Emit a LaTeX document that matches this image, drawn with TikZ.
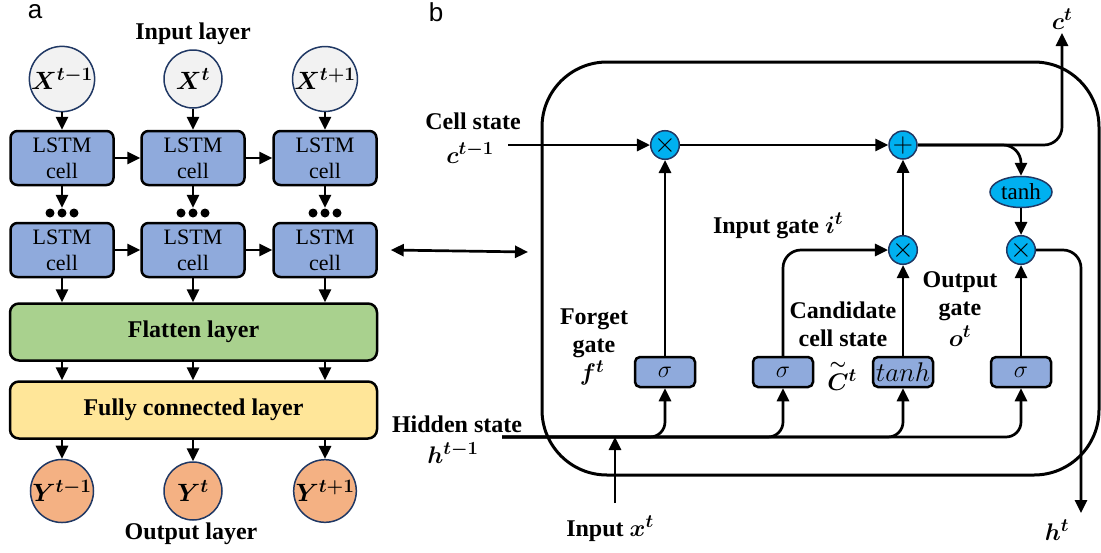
\documentclass[tikz,border=0pt]{standalone}
\usepackage{fix-cm}
\usepackage{amsmath}
\usepackage{fontspec}
\setmainfont{Liberation Serif}
\newfontfamily\panelfont{Liberation Sans}
\usetikzlibrary{arrows.meta, positioning, shapes.geometric}
\DeclareMathSizes{25}{25}{19}{15}
\DeclareMathSizes{24}{24}{18.5}{14}
\definecolor{lstmblue}{HTML}{8FAADC}
\definecolor{flatgreen}{HTML}{A9D18E}
\definecolor{fcyellow}{HTML}{FFE699}
\definecolor{outorange}{HTML}{F4B183}
\definecolor{ingray}{HTML}{F2F2F2}
\definecolor{darknavy}{HTML}{203864}
\definecolor{opcyan}{HTML}{00B0F0}

\begin{document}
\begin{tikzpicture}[x=1pt, y=-1pt,
  lstm/.style={draw, line width=2.5pt, rounded corners=7pt, fill=lstmblue, minimum width=103pt, minimum height=54pt, align=center, inner sep=0pt, font=\fontsize{22}{26}\selectfont},
  layer/.style={draw, line width=2.5pt, rounded corners=9pt, minimum width=367pt, minimum height=57pt, font=\fontsize{24}{26}\selectfont\bfseries},
  unit/.style={circle, draw=darknavy, line width=1.5pt, minimum size=58pt, inner sep=0pt, font=\fontsize{25}{26}\selectfont\boldmath},
  op/.style={circle, draw=darknavy, line width=1.5pt, fill=opcyan, minimum size=28pt, inner sep=0pt, font=\fontsize{28}{28}\selectfont},
  gatebox/.style={draw, line width=2.5pt, rounded corners=5pt, fill=lstmblue, minimum width=60pt, minimum height=30pt, inner sep=0pt, font=\fontsize{24}{24}\selectfont},
  lbl/.style={align=center, inner sep=0pt, font=\fontsize{24}{28}\selectfont\bfseries\boldmath},
  arr/.style={-{Triangle[length=13pt, width=12pt]}, line width=2.7pt},
  dotrow/.style={minimum width=34pt, minimum height=10pt, inner sep=0pt}
]
\useasboundingbox (0,0) rectangle (1101,552);

% ---- panel a ----
\node[font=\panelfont\fontsize{26}{26}\selectfont] (pa) at (35,12) {a};
\node[lbl] (inlayer) at (193,34) {Input layer};

\node[unit, fill=ingray] (x1) at (62,79) {$X^{t-1}$};
\node[unit, fill=ingray] (x2) at (193,79) {$X^{t}$};
\node[unit, fill=ingray] (x3) at (325,79) {$X^{t+1}$};

\node[lstm] (l11) at (62,158) {LSTM\\cell};
\node[lstm] (l12) at (193,158) {LSTM\\cell};
\node[lstm] (l13) at (325,158) {LSTM\\cell};

\node[dotrow] (d1) at (62,213) {};
\node[dotrow] (d2) at (193,213) {};
\node[dotrow] (d3) at (325,213) {};

\node[lstm] (l21) at (62,250) {LSTM\\cell};
\node[lstm] (l22) at (193,250) {LSTM\\cell};
\node[lstm] (l23) at (325,250) {LSTM\\cell};

\node[layer, fill=flatgreen] (flat) at (193.5,332) {Flatten layer};
\node[layer, fill=fcyellow] (fc) at (193.5,410) {Fully connected layer};

\node[unit, fill=outorange] (y1) at (62,491) {$Y^{t-1}$};
\node[unit, fill=outorange] (y2) at (193,491) {$Y^{t}$};
\node[unit, fill=outorange] (y3) at (325,491) {$Y^{t+1}$};
\node[lbl] (outlayer) at (191,534) {Output layer};

\foreach \c in {1,2,3} {
  \draw[arr] (x\c) -- (l1\c);
  \draw[arr] (l1\c) -- (d\c);
  \foreach \k in {-12,0,12} \fill ([xshift=\k]d\c) circle (4.5);
  \draw[arr] (l2\c) -- (l2\c |- flat.north);
  \draw[arr] (flat.south -| l2\c) -- (fc.north -| l2\c);
  \draw[arr] (fc.south -| y\c) -- (y\c);
}
\draw[arr] (l11) -- (l12);
\draw[arr] (l12) -- (l13);
\draw[arr] (l21) -- (l22);
\draw[arr] (l22) -- (l23);

% link between panels
\coordinate (lnk) at (528,252);
\draw[arr, {Triangle[length=13pt, width=12pt]}-{Triangle[length=13pt, width=12pt]}] ([xshift=13]l23.east) -- (lnk);

% ---- panel b ----
\node[font=\panelfont\fontsize{26}{26}\selectfont] (pb) at (436,12) {b};
\node[draw, line width=3pt, rounded corners=65pt, minimum width=557pt, minimum height=413pt] (cell) at (820.5,268.5) {};

\node[op] (fx) at (665,145) {$\times$};
\node[op] (add) at (903,145) {$+$};
\node[op] (ix) at (903,250) {$\times$};
\node[op] (ox) at (1021,250) {$\times$};
\node[ellipse, draw=darknavy, line width=1.5pt, fill=opcyan, minimum width=62pt, minimum height=31pt, inner sep=0pt, font=\fontsize{23}{24}\selectfont] (th) at (1021,192) {tanh};

\node[gatebox] (fs) at (665,372) {$\sigma$};
\node[gatebox] (is) at (783,372) {$\sigma$};
\node[gatebox, font=\fontsize{27}{27}\selectfont] (ct) at (903,372) {$tanh$};
\node[gatebox] (os) at (1021,372) {$\sigma$};

\coordinate (cin) at (508,145);
\coordinate (cout) at (1062,33);
\coordinate (hin) at (502,437);
\coordinate (hout) at (1081,513);
\coordinate (xin) at (615,503);

\draw[arr] (cin) -- (fx);
\draw[arr] (fx) -- (add);
\draw[arr, rounded corners=18pt] (add) -- (add -| cout) -- (cout);
\draw[arr, rounded corners=18pt] (add.east) -- (add.east -| th) -- (th);
\draw[arr] (th) -- (ox);
\draw[arr] (ix) -- (add);
\draw[arr] (ct) -- (ix);
\draw[arr, rounded corners=18pt] (is) -- (is |- ix) -- (ix);
\draw[arr, rounded corners=18pt] (ox) -- (ox -| hout) -- (hout);
\draw[arr] (fs) -- (fx);
\draw[arr] (os) -- (ox);

\draw[arr, rounded corners=15pt] (hin) -- (hin -| os) -- (os);
\foreach \g in {fs,is,ct}
  \draw[arr, rounded corners=15pt] (hin) -- (hin -| \g) -- (\g);
\draw[arr] (xin) -- (xin |- hin);

\node[lbl] (cslbl) at (473,121) {Cell state};
\node[lbl] (cprev) at (470,153) {$c^{t-1}$};
\node[lbl] (hslbl) at (457,424) {Hidden state};
\node[lbl] (hprev) at (453,453) {$h^{t-1}$};
\node[lbl] (fglbl) at (594,333) {Forget\\gate};
\node[lbl] (fsym) at (592,373) {$f^{t}$};
\node[lbl] (iglbl) at (778,226) {Input gate $i^{t}$};
\node[lbl] (cclbl) at (843,324) {Candidate\\cell state};
\node[lbl] (csym) at (842,375) {$\overset{\sim}{C}{}^{t}$};
\node[lbl] (oglbl) at (960,296) {Output\\gate};
\node[lbl] (osym) at (960,336) {$o^{t}$};
\node[lbl] (xlbl) at (610,529) {Input $x^{t}$};
\node[lbl] (ctlbl) at (1062,19) {$c^{t}$};
\node[lbl] (htlbl) at (1057,530) {$h^{t}$};
\end{tikzpicture}
\end{document}
